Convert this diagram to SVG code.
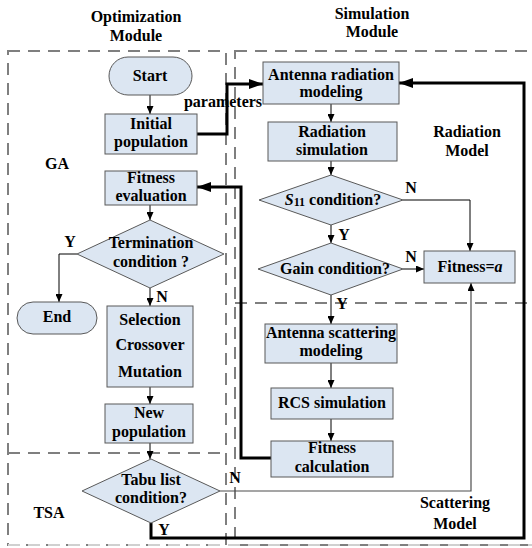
<svg xmlns="http://www.w3.org/2000/svg" width="532" height="548" viewBox="0 0 532 548">
<defs>
<style>
text{font-family:"Liberation Serif","Times New Roman",serif;font-weight:bold;font-size:16px;fill:#000;text-anchor:middle}
.node{fill:#dce6f2;stroke:#595959;stroke-width:1}
.dash{fill:none;stroke:#7f7f7f;stroke-width:2;stroke-dasharray:12 8}
.thin{fill:none;stroke:#000;stroke-width:1}
.gray{fill:none;stroke:#4d4d4d;stroke-width:1.2}
.thick{fill:none;stroke:#000;stroke-width:3}
</style>
<marker id="a" markerUnits="userSpaceOnUse" markerWidth="8" markerHeight="7" refX="8" refY="3.5" orient="auto"><path d="M0,0 L8,3.5 L0,7 z" fill="#000"/></marker>
<marker id="b" markerUnits="userSpaceOnUse" markerWidth="14" markerHeight="10" refX="14" refY="5" orient="auto"><path d="M0,0 L14,5 L0,10 z" fill="#000"/></marker>
</defs>
<rect width="532" height="548" fill="#fff"/>

<g id="modules">
<rect class="dash" x="8" y="51" width="218" height="494"/>
<line class="dash" x1="8" y1="453" x2="226" y2="453"/>
<rect class="dash" x="235" y="51" width="310" height="494"/>
<line class="dash" x1="235" y1="303" x2="532" y2="303"/>
<line x1="8" y1="545" x2="532" y2="545" stroke="#d0d0d0" stroke-width="2" stroke-dasharray="12 8"/>
<text x="136" y="22">Optimization</text>
<text x="136" y="41">Module</text>
<text x="372" y="19">Simulation</text>
<text x="372" y="37">Module</text>
<text x="57" y="169">GA</text>
<text x="49" y="518">TSA</text>
<text x="467" y="137">Radiation</text>
<text x="467" y="156">Model</text>
<text x="455" y="508">Scattering</text>
<text x="455" y="529">Model</text>
</g>

<g id="connectors">
<line class="thin" x1="150" y1="95" x2="150" y2="114" marker-end="url(#a)"/>
<line class="thin" x1="150" y1="205" x2="150" y2="220" marker-end="url(#a)"/>
<polyline class="thin" points="77,254 59,254 59,302" marker-end="url(#a)"/>
<line class="thin" x1="150" y1="288" x2="150" y2="306" marker-end="url(#a)"/>
<line class="thin" x1="150" y1="387" x2="150" y2="404" marker-end="url(#a)"/>
<line class="thin" x1="150" y1="443" x2="150" y2="459" marker-end="url(#a)"/>
<polyline class="thick" points="197,134 227,134 227,84 263,84" marker-end="url(#b)"/>
<polyline class="thick" points="271,458 241,458 241,187 197,187" marker-end="url(#b)"/>
<polyline class="thick" points="151,523 151,538 524,538 524,83 399,83" marker-end="url(#b)"/>
<line class="thin" x1="331" y1="104" x2="331" y2="122" marker-end="url(#a)"/>
<line class="thin" x1="331" y1="161" x2="331" y2="175" marker-end="url(#a)"/>
<polyline class="thin" points="403,200 470,200 470,251" marker-end="url(#a)"/>
<line class="thin" x1="331" y1="225" x2="331" y2="243" marker-end="url(#a)"/>
<line class="thin" x1="403" y1="269" x2="424" y2="269" marker-end="url(#a)"/>
<line class="thin" x1="331" y1="295" x2="331" y2="324" marker-end="url(#a)"/>
<line class="thin" x1="331" y1="363" x2="331" y2="388" marker-end="url(#a)"/>
<line class="thin" x1="331" y1="419" x2="331" y2="441" marker-end="url(#a)"/>
<polyline class="gray" points="220,491 471,491 471,283" marker-end="url(#a)"/>
<text x="223" y="107">parameters</text>
<text x="70" y="247">Y</text>
<text x="162" y="302">N</text>
<text x="164" y="535">Y</text>
<text x="235" y="483">N</text>
<text x="411" y="193">N</text>
<text x="344" y="240">Y</text>
<text x="411" y="262">N</text>
<text x="342" y="309">Y</text>
</g>

<g id="start">
<rect class="node" x="109" y="57" width="83" height="38" rx="19"/>
<text x="150" y="81">Start</text>
</g>
<g id="initial-population">
<rect class="node" x="105" y="114" width="92" height="40"/>
<text x="151" y="129">Initial</text>
<text x="151" y="147">population</text>
</g>
<g id="fitness-evaluation">
<rect class="node" x="105" y="171" width="92" height="34"/>
<text x="151" y="183">Fitness</text>
<text x="151" y="201">evaluation</text>
</g>
<g id="termination">
<polygon class="node" points="150,220 224,254 150,288 77,254"/>
<text x="151" y="248">Termination</text>
<text x="151" y="267">condition ?</text>
</g>
<g id="end">
<rect class="node" x="17" y="302" width="80" height="32" rx="16"/>
<text x="57" y="322">End</text>
</g>
<g id="selection">
<rect class="node" x="107" y="306" width="86" height="81"/>
<text x="150" y="325">Selection</text>
<text x="150" y="350">Crossover</text>
<text x="150" y="377">Mutation</text>
</g>
<g id="new-population">
<rect class="node" x="105" y="404" width="88" height="39"/>
<text x="149" y="418">New</text>
<text x="149" y="437">population</text>
</g>
<g id="tabu">
<polygon class="node" points="151,459 220,491 151,523 82,491"/>
<text x="151" y="485">Tabu list</text>
<text x="151" y="503">condition?</text>
</g>
<g id="antenna-radiation">
<rect class="node" x="263" y="62" width="136" height="42"/>
<text x="331" y="80">Antenna radiation</text>
<text x="331" y="97">modeling</text>
</g>
<g id="radiation-simulation">
<rect class="node" x="268" y="122" width="129" height="39"/>
<text x="332" y="137">Radiation</text>
<text x="332" y="155">simulation</text>
</g>
<g id="s11">
<polygon class="node" points="331,175 403,200 331,225 259,200"/>
<text x="333" y="205"><tspan font-style="italic">S</tspan><tspan font-size="12" dy="1">11</tspan><tspan dy="-1"> condition?</tspan></text>
</g>
<g id="gain">
<polygon class="node" points="331,243 403,269 331,295 258,269"/>
<text x="335" y="274">Gain condition?</text>
</g>
<g id="fitness-a">
<rect class="node" x="424" y="251" width="91" height="32"/>
<text x="470" y="272">Fitness=<tspan font-style="italic">a</tspan></text>
</g>
<g id="antenna-scattering">
<rect class="node" x="265" y="324" width="132" height="39"/>
<text x="331" y="338">Antenna scattering</text>
<text x="331" y="356">modeling</text>
</g>
<g id="rcs-simulation">
<rect class="node" x="271" y="388" width="122" height="31"/>
<text x="332" y="408">RCS simulation</text>
</g>
<g id="fitness-calculation">
<rect class="node" x="271" y="441" width="122" height="36"/>
<text x="332" y="453">Fitness</text>
<text x="332" y="472">calculation</text>
</g>
</svg>
